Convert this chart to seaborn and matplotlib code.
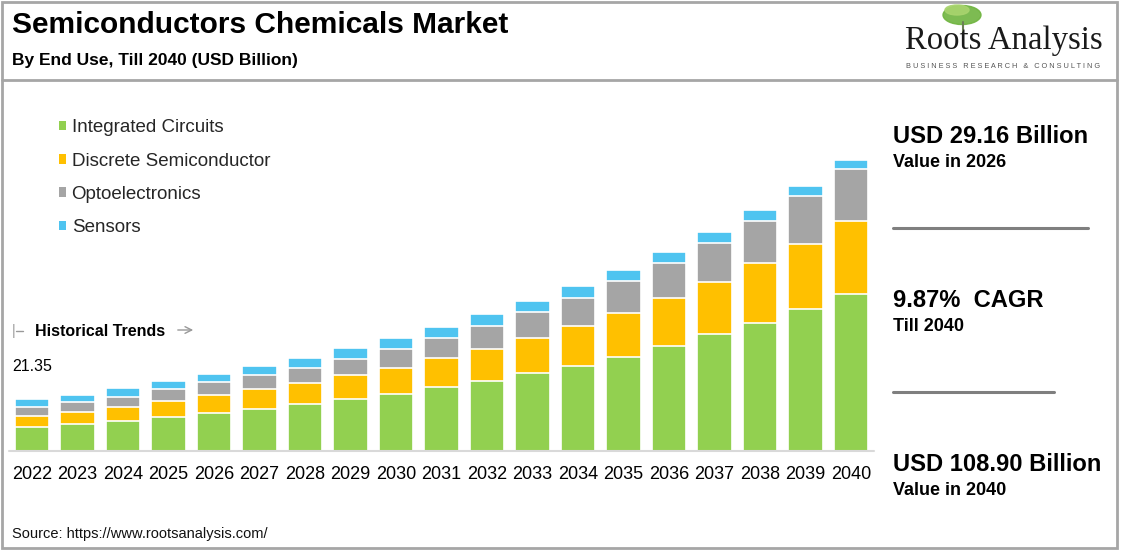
import numpy as np
import matplotlib
matplotlib.use("Agg")
import matplotlib.pyplot as plt
from matplotlib.patches import Rectangle, Ellipse, Patch
from matplotlib.lines import Line2D
import seaborn as sns

years = [str(y) for y in range(2022, 2041)]
integrated_circuits = [8.99, 10.11, 11.24, 12.74, 14.23, 15.73, 17.38, 19.25, 21.35, 23.75,
                       26.22, 28.99, 31.84, 35.21, 39.33, 43.60, 47.95, 53.19, 58.70]
discrete_semiconductor = [4.12, 4.50, 5.24, 5.77, 6.52, 7.27, 8.09, 9.10, 9.74, 10.86,
                          11.99, 13.34, 14.98, 16.48, 17.98, 19.70, 22.25, 24.35, 27.46]
optoelectronics = [3.15, 3.75, 3.75, 4.50, 4.87, 5.24, 5.62, 6.11, 7.12, 7.72,
                   8.62, 9.74, 10.49, 11.99, 13.11, 14.61, 15.96, 17.87, 19.37]
sensors = [3.00, 2.62, 3.26, 3.22, 3.22, 3.60, 3.75, 4.12, 4.12, 4.12,
           4.38, 4.01, 4.38, 4.01, 4.01, 4.01, 4.01, 3.75, 3.37]

series_names = ["Integrated Circuits", "Discrete Semiconductor", "Optoelectronics", "Sensors"]
series_colors = ["#92D050", "#FFC000", "#A5A5A5", "#4FC4F0"]

W, H = 1123, 553


def fx(px):
    return px / W


def fy(py):
    return 1 - py / H


sns.set_theme(style="white")
plt.rcParams["font.family"] = ["Liberation Sans", "DejaVu Sans"]

fig = plt.figure(figsize=(W / 100, H / 100), dpi=100)
fig.patch.set_facecolor("white")

# bar area, px -> figure fractions
base_y, top_y = 450.7, 100
ax = fig.add_axes([fx(9.25), fy(base_y), (873.75 - 9.25) / W, (base_y - top_y) / H])

# stacked bars drawn as overlapping cumulative totals
stack = np.cumsum([integrated_circuits, discrete_semiconductor, optoelectronics, sensors], axis=0)
for i in [3, 2, 1, 0]:
    sns.barplot(x=years, y=stack[i], color=series_colors[i], saturation=1, width=0.76,
                edgecolor="white", linewidth=1.2, errorbar=None, ax=ax)

ax.set_ylim(0, (base_y - top_y) * 108.9 / (base_y - 160))
ax.set_xlim(-0.5, len(years) - 0.5)
sns.despine(ax=ax, left=True, bottom=True)
ax.set_yticks([])
ax.set_xlabel("")
ax.set_ylabel("")
ax.axhline(0, color="#d9d9d9", lw=1.5, clip_on=False)
ax.tick_params(axis="x", length=0, labelsize=13, pad=11, labelcolor="black")
ax.patch.set_alpha(0)

legend_handles = [Patch(facecolor=c, edgecolor="none") for c in series_colors]
fig.legend(legend_handles, series_names, loc="upper left",
           bbox_to_anchor=(fx(58.5), fy(119.5)), bbox_transform=fig.transFigure,
           frameon=False, fontsize=13.5, handlelength=0.38, handleheight=0.38,
           handletextpad=0.32, labelspacing=0.86, borderpad=0, borderaxespad=0)

# header
fig.text(fx(12), fy(33), "Semiconductors Chemicals Market", fontsize=21.5,
         fontweight="bold", color="black", va="baseline")
fig.text(fx(12), fy(65), "By End Use, Till 2040 (USD Billion)", fontsize=12.5,
         fontweight="bold", color="black", va="baseline")

# logo
fig.add_artist(Ellipse((fx(962), fy(15)), 38 / W, 19 / H, transform=fig.transFigure,
                       color="#6fb43f", alpha=0.9))
fig.add_artist(Ellipse((fx(957), fy(10)), 24 / W, 10 / H, transform=fig.transFigure,
                       color="#a9d46e", alpha=0.9))
fig.add_artist(Line2D([fx(963), fx(963)], [fy(22), fy(36)], transform=fig.transFigure,
                      color="#6b7f55", lw=1.5))
fig.text(fx(905), fy(49), "Roots Analysis", fontsize=23.6, family="Liberation Serif",
         color="#1a1a1a", va="baseline")
fig.text(fx(1003), fy(66), "B U S I N E S S   R E S E A R C H   &   C O N S U L T I N G",
         fontsize=5.3, color="#555555", ha="center", va="center")

# historical trends marker
fig.text(fx(12), fy(331), "|", fontsize=10, color="#999999", va="center")
fig.add_artist(Line2D([fx(16), fx(23)], [fy(331), fy(331)], transform=fig.transFigure,
                      color="#999999", lw=1))
fig.text(fx(35), fy(336), "Historical Trends", fontsize=11.5, fontweight="bold",
         color="black", va="baseline")
ax.annotate("", xy=(fx(196), fy(330)), xytext=(fx(175), fy(330)), xycoords="figure fraction",
            textcoords="figure fraction", annotation_clip=False,
            arrowprops=dict(arrowstyle="->", color="#999999", lw=1))
fig.text(fx(12), fy(371), "21.35", fontsize=11.5, color="black", va="baseline")

# right panel
fig.text(fx(893), fy(143.3), "USD 29.16 Billion", fontsize=17.1, fontweight="bold",
         color="black", va="baseline")
fig.text(fx(893), fy(166.7), "Value in 2026", fontsize=13, fontweight="bold",
         color="black", va="baseline")
fig.add_artist(Line2D([fx(893), fx(1088)], [fy(227.7), fy(227.7)], transform=fig.transFigure,
                      color="#7f7f7f", lw=2.2))
fig.text(fx(893), fy(306.7), "9.87%  CAGR", fontsize=17.1, fontweight="bold",
         color="black", va="baseline")
fig.text(fx(893), fy(330.7), "Till 2040", fontsize=13, fontweight="bold",
         color="black", va="baseline")
fig.add_artist(Line2D([fx(893), fx(1054)], [fy(391.7), fy(391.7)], transform=fig.transFigure,
                      color="#7f7f7f", lw=2.2))
fig.text(fx(893), fy(471), "USD 108.90 Billion", fontsize=17.1, fontweight="bold",
         color="black", va="baseline")
fig.text(fx(893), fy(495), "Value in 2040", fontsize=13, fontweight="bold",
         color="black", va="baseline")

# source
fig.text(fx(12), fy(538), "Source: https://www.rootsanalysis.com/", fontsize=10.5,
         color="#111111", va="baseline")

# frame
fig.add_artist(Rectangle((fx(1.5), fy(548)), (1117 - 1.5) / W, (548 - 1.5) / H,
                         transform=fig.transFigure, fill=False, edgecolor="#a6a6a6", lw=2))
fig.add_artist(Line2D([fx(1.5), fx(1117)], [fy(80), fy(80)], transform=fig.transFigure,
                      color="#a6a6a6", lw=2))

fig.savefig("out.png", dpi=100, facecolor="white")
